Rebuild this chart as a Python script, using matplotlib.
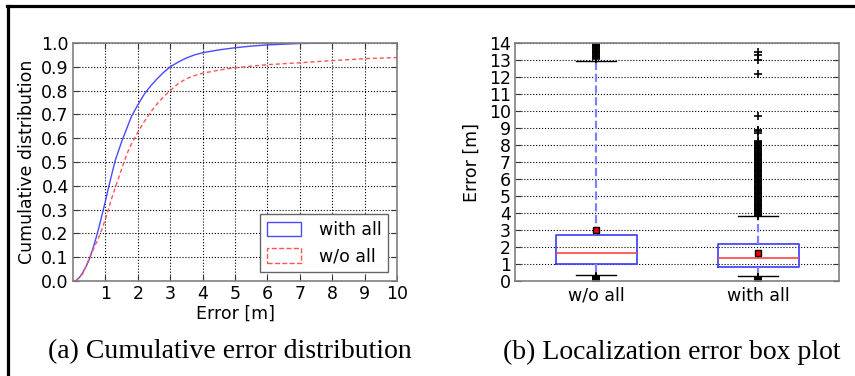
import matplotlib
matplotlib.use("Agg")
import matplotlib.pyplot as plt
from matplotlib.patches import Patch
from matplotlib.lines import Line2D

# ---- CDF data (panel a) ----
x_with = [0.08, 0.2, 0.3, 0.4, 0.5, 0.6, 0.7, 0.8, 0.9, 1.0, 1.1, 1.2, 1.3, 1.4, 1.5,
          1.6, 1.7, 1.8, 1.9, 2.0, 2.2, 2.4, 2.6, 2.8, 3.0, 3.25, 3.5, 3.75, 4.0,
          4.5, 5.0, 5.5, 6.0, 7.0, 8.0]
y_with = [0.0, 0.015, 0.035, 0.06, 0.09, 0.13, 0.175, 0.225, 0.28, 0.335, 0.395, 0.45,
          0.505, 0.545, 0.585, 0.62, 0.655, 0.69, 0.715, 0.74, 0.785, 0.82, 0.85,
          0.877, 0.9, 0.92, 0.937, 0.95, 0.959, 0.971, 0.98, 0.987, 0.992, 0.998, 1.0]
x_wo = [0.08, 0.3, 0.5, 0.6, 0.7, 0.8, 0.9, 1.0, 1.1, 1.2, 1.3, 1.4, 1.5, 1.6, 1.7,
        1.8, 1.9, 2.0, 2.2, 2.4, 2.6, 2.8, 3.0, 3.25, 3.5, 3.75, 4.0, 4.5, 5.0,
        6.0, 7.0, 8.0, 9.0, 10.0]
y_wo = [0.0, 0.03, 0.095, 0.125, 0.155, 0.185, 0.22, 0.26, 0.305, 0.35, 0.39, 0.43,
        0.47, 0.51, 0.545, 0.575, 0.6, 0.625, 0.67, 0.71, 0.745, 0.775, 0.8, 0.83,
        0.85, 0.863, 0.873, 0.886, 0.896, 0.909, 0.917, 0.926, 0.934, 0.939]
legend_labels = ["with all", "w/o all"]

# ---- Box plot stats (panel b) ----
box_labels = ["w/o all", "with all"]
q1 = [1.0, 0.8]
med = [1.62, 1.38]
q3 = [2.7, 2.15]
whislo = [0.35, 0.3]
whishi = [12.95, 3.8]
means = [3.0, 1.62]
fliers_wo = [0.02, 0.05, 0.08, 0.11, 0.14, 0.17, 0.2, 0.23, 0.26, 0.29,
             13.05, 13.1, 13.15, 13.2, 13.25, 13.3, 13.35, 13.4, 13.45, 13.5,
             13.55, 13.6, 13.65, 13.7, 13.75, 13.8, 13.85, 13.9, 13.95]
fliers_with = [0.02, 0.05, 0.08, 0.11, 0.14, 0.17, 0.2, 0.23, 0.26,
               3.85, 3.9, 3.95, 4.0, 4.05, 4.1, 4.15, 4.2, 4.25, 4.3, 4.35, 4.4,
               4.45, 4.5, 4.55, 4.6, 4.65, 4.7, 4.75, 4.8, 4.85, 4.9, 4.95, 5.0,
               5.05, 5.1, 5.15, 5.2, 5.25, 5.3, 5.35, 5.4, 5.45, 5.5, 5.55, 5.6,
               5.65, 5.7, 5.75, 5.8, 5.85, 5.9, 5.95, 6.0, 6.05, 6.1, 6.15, 6.2,
               6.25, 6.3, 6.35, 6.4, 6.45, 6.5, 6.55, 6.6, 6.65, 6.7, 6.75, 6.8,
               6.85, 6.9, 6.95, 7.0, 7.05, 7.1, 7.15, 7.2, 7.25, 7.3, 7.35, 7.4,
               7.45, 7.5, 7.55, 7.6, 7.65, 7.7, 7.75, 7.8, 7.85, 7.9, 7.95, 8.0,
               8.05, 8.1, 8.15, 8.2, 8.25,
               8.7, 8.8, 8.9, 9.7, 12.2, 13.0, 13.3, 13.5]

FS = 12.5
plt.rcParams['font.family'] = ['DejaVu Sans']

fig = plt.figure(figsize=(8.55, 3.76), dpi=100)

def style_axes(ax):
    for s in ax.spines.values():
        s.set_color('0.5')
        s.set_linewidth(1.2)
    ax.tick_params(direction='in', top=True, right=True, labelsize=FS,
                   length=4, color='0.2', pad=3)

# Panel a
ax1 = fig.add_axes([73/855, 1-281/376, 324/855, 238/376])
ax1.plot(x_with, y_with, color='#4a4aff', lw=1.0)
ax1.plot(x_wo, y_wo, color='#ff5555', lw=1.0, ls='--', dashes=(3, 2))
ax1.set_xlim(0, 10)
ax1.set_ylim(0, 1.0)
ax1.set_xticks(range(1, 11))
ax1.set_yticks([i/10 for i in range(11)])
ax1.set_yticklabels([f"{i/10:.1f}" for i in range(11)])
ax1.grid(True, color='k', ls=':', lw=0.8)
style_axes(ax1)
ax1.set_xlabel("Error [m]", fontsize=FS, labelpad=1)
ax1.set_ylabel("Cumulative distribution", fontsize=FS, labelpad=4)
handles = [Patch(facecolor='none', edgecolor='#4a4aff', lw=1.0),
           Patch(facecolor='none', edgecolor='#ff5555', lw=1.0, ls='--')]
leg = ax1.legend(handles, legend_labels, loc='lower right', fontsize=FS,
                 fancybox=False, edgecolor='0.4', framealpha=1,
                 handlelength=2.0, handleheight=0.9, handletextpad=1.0,
                 borderaxespad=0.5)
leg.get_frame().set_linewidth(1.0)

# Panel b
ax2 = fig.add_axes([515/855, 1-281/376, 324/855, 238/376])
stats = []
flier_sets = [fliers_wo, fliers_with]
for i in range(2):
    stats.append(dict(label=box_labels[i], q1=q1[i], med=med[i], q3=q3[i],
                      whislo=whislo[i], whishi=whishi[i], mean=means[i],
                      fliers=flier_sets[i]))
ax2.bxp(stats, positions=[1, 2], widths=0.5, showmeans=True,
        boxprops=dict(color='#3a3aff', lw=1.2),
        medianprops=dict(color='#ff4444', lw=1.2),
        whiskerprops=dict(color='#8080ff', lw=1.6, ls='--'),
        capprops=dict(color='k', lw=1.0),
        meanprops=dict(marker='s', markerfacecolor='#ee0000',
                       markeredgecolor='k', markersize=5),
        flierprops=dict(marker='+', markeredgecolor='k', markersize=5.5,
                        markeredgewidth=1.2))
ax2.set_xlim(0.5, 2.5)
ax2.set_ylim(0, 14)
ax2.set_yticks(range(0, 15))
ax2.yaxis.grid(True, color='k', ls=':', lw=0.8)
ax2.set_axisbelow(True)
style_axes(ax2)
ax2.tick_params(axis='x', length=0, pad=4)
ax2.set_ylabel("Error [m]", fontsize=FS, labelpad=6)

# Captions
fig.text(0.269, 0.064, "(a) Cumulative error distribution", fontsize=20,
         family='Liberation Serif', ha='center', va='center')
fig.text(0.786, 0.064, "(b) Localization error box plot", fontsize=20,
         family='Liberation Serif', ha='center', va='center')

# Frame border
fig.add_artist(Line2D([7/855, 1], [1-5.5/376, 1-5.5/376], color='k', lw=2.3,
                      transform=fig.transFigure))
fig.add_artist(Line2D([7.5/855, 7.5/855], [0, 1-5.5/376], color='k', lw=2.3,
                      transform=fig.transFigure))

fig.savefig("out.png", dpi=100)
